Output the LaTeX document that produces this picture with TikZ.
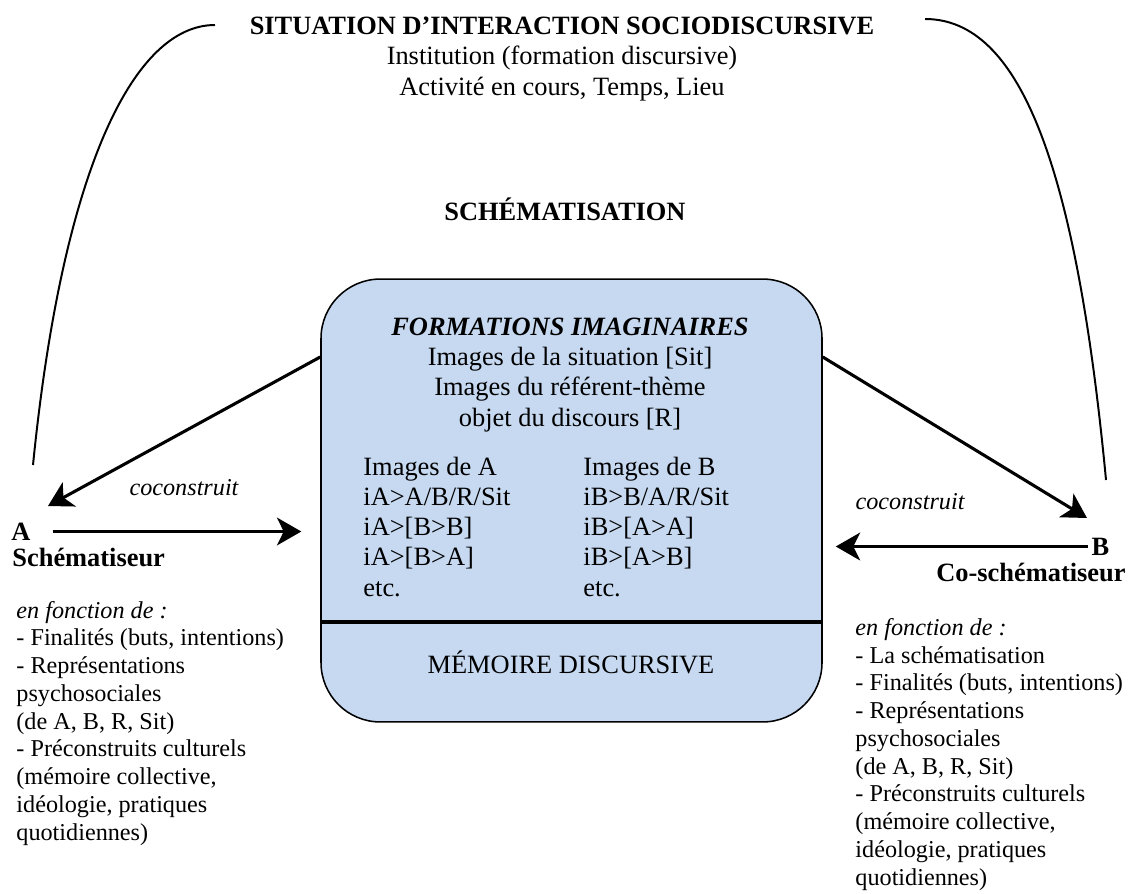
\documentclass[tikz,border=0pt]{standalone}
\usepackage{fontspec}
\setmainfont{Liberation Serif}
\usetikzlibrary{arrows.meta}
\definecolor{imaginaire}{HTML}{C6D9F1}

\begin{document}
\begin{tikzpicture}[x=0.4545pt, y=-0.4545pt,
    every node/.style={inner sep=0pt, font=\fontsize{12}{13.7}\selectfont},
    gras/.style={font=\bfseries\fontsize{12}{13.7}\selectfont},
    liste/.style={align=left, anchor=base west, font=\fontsize{11}{12.6}\selectfont},
    etiquette/.style={anchor=base, font=\itshape\fontsize{11}{12.6}\selectfont},
    fleche/.style={-{Stealth[length=11pt, width=12.5pt, inset=3pt]}, line width=1.4pt},
    arc/.style={line width=0.9pt}]
    \useasboundingbox (0,0) rectangle (1130,893);

    % situation (base = last line)
    \node[anchor=base, align=center] (situation) at (562,95) {\textbf{SITUATION D’INTERACTION SOCIODISCURSIVE}\\Institution (formation discursive)\\Activité en cours, Temps, Lieu};
    \node[gras, anchor=base] (schema) at (565,220) {SCHÉMATISATION};

    % formations imaginaires
    \node[draw, line width=0.7pt, rounded corners=27pt, fill=imaginaire, minimum width=227.7pt, minimum height=201.3pt] (box) at (571.5,500.5) {};
    \coordinate (sep) at (0,622);
    \draw[line width=1.8pt] (box.west |- sep) -- (box.east |- sep);
    \node[anchor=base, align=center] (formations) at (570,426) {\textbf{\textit{FORMATIONS IMAGINAIRES}}\\Images de la situation [Sit]\\Images du référent-thème\\objet du discours [R]};
    \node[anchor=base west, align=left] (imagesA) at (363,596) {Images de A\\iA>A/B/R/Sit\\iA>[B>B]\\iA>[B>A]\\etc.};
    \node[anchor=base west, align=left] (imagesB) at (583,596) {Images de B\\iB>B/A/R/Sit\\iB>[A>A]\\iB>[A>B]\\etc.};
    \node[anchor=base] (memoire) at (571,673) {MÉMOIRE DISCURSIVE};

    % A et B
    \node[gras] (A) at (21,531.5) {A};
    \node[gras, anchor=base west] (schematiseur) at (12,566) {Schématiseur};
    \node[gras] (B) at (1100.5,546.5) {B};
    \node[gras, anchor=base east] (coschematiseur) at (1126,581) {Co-schématiseur};

    \node[liste] (fonctionA) at (16,840) {\textit{en fonction de :}\\- Finalités (buts, intentions)\\- Représentations\\psychosociales\\(de A, B, R, Sit)\\- Préconstruits culturels\\(mémoire collective,\\idéologie, pratiques\\quotidiennes)};
    \node[liste] (fonctionB) at (855,885) {\textit{en fonction de :}\\- La schématisation\\- Finalités (buts, intentions)\\- Représentations\\psychosociales\\(de A, B, R, Sit)\\- Préconstruits culturels\\(mémoire collective,\\idéologie, pratiques\\quotidiennes)};

    % fleches
    \coordinate (hautbox) at (0,357);
    \coordinate (pointeA) at (48,506);
    \coordinate (pointeB) at (1087,518);
    \draw[fleche] (box.west |- hautbox) -- (pointeA);
    \draw[fleche] (box.east |- hautbox) -- (pointeB);
    \node[etiquette] (coA) at (184,495) {coconstruit};
    \node[etiquette] (coB) at (910,509) {coconstruit};
    \draw[fleche, line width=1.8pt, shorten <=9.8pt, shorten >=8.6pt] (A.east) -- (A.east -| box.west);
    \draw[fleche, line width=1.8pt, shorten <=1.7pt, shorten >=5.9pt] (B.west) -- (B.west -| box.east);

    % arcs
    \coordinate (arcA) at (215,25);
    \coordinate (finA) at (33,465);
    \coordinate (arcB) at (925,19);
    \coordinate (finB) at (1106,480);
    \draw[arc] (arcA) .. controls (135,25) and (63,165) .. (finA);
    \draw[arc] (arcB) .. controls (1020,19) and (1076,165) .. (finB);
\end{tikzpicture}
\end{document}
